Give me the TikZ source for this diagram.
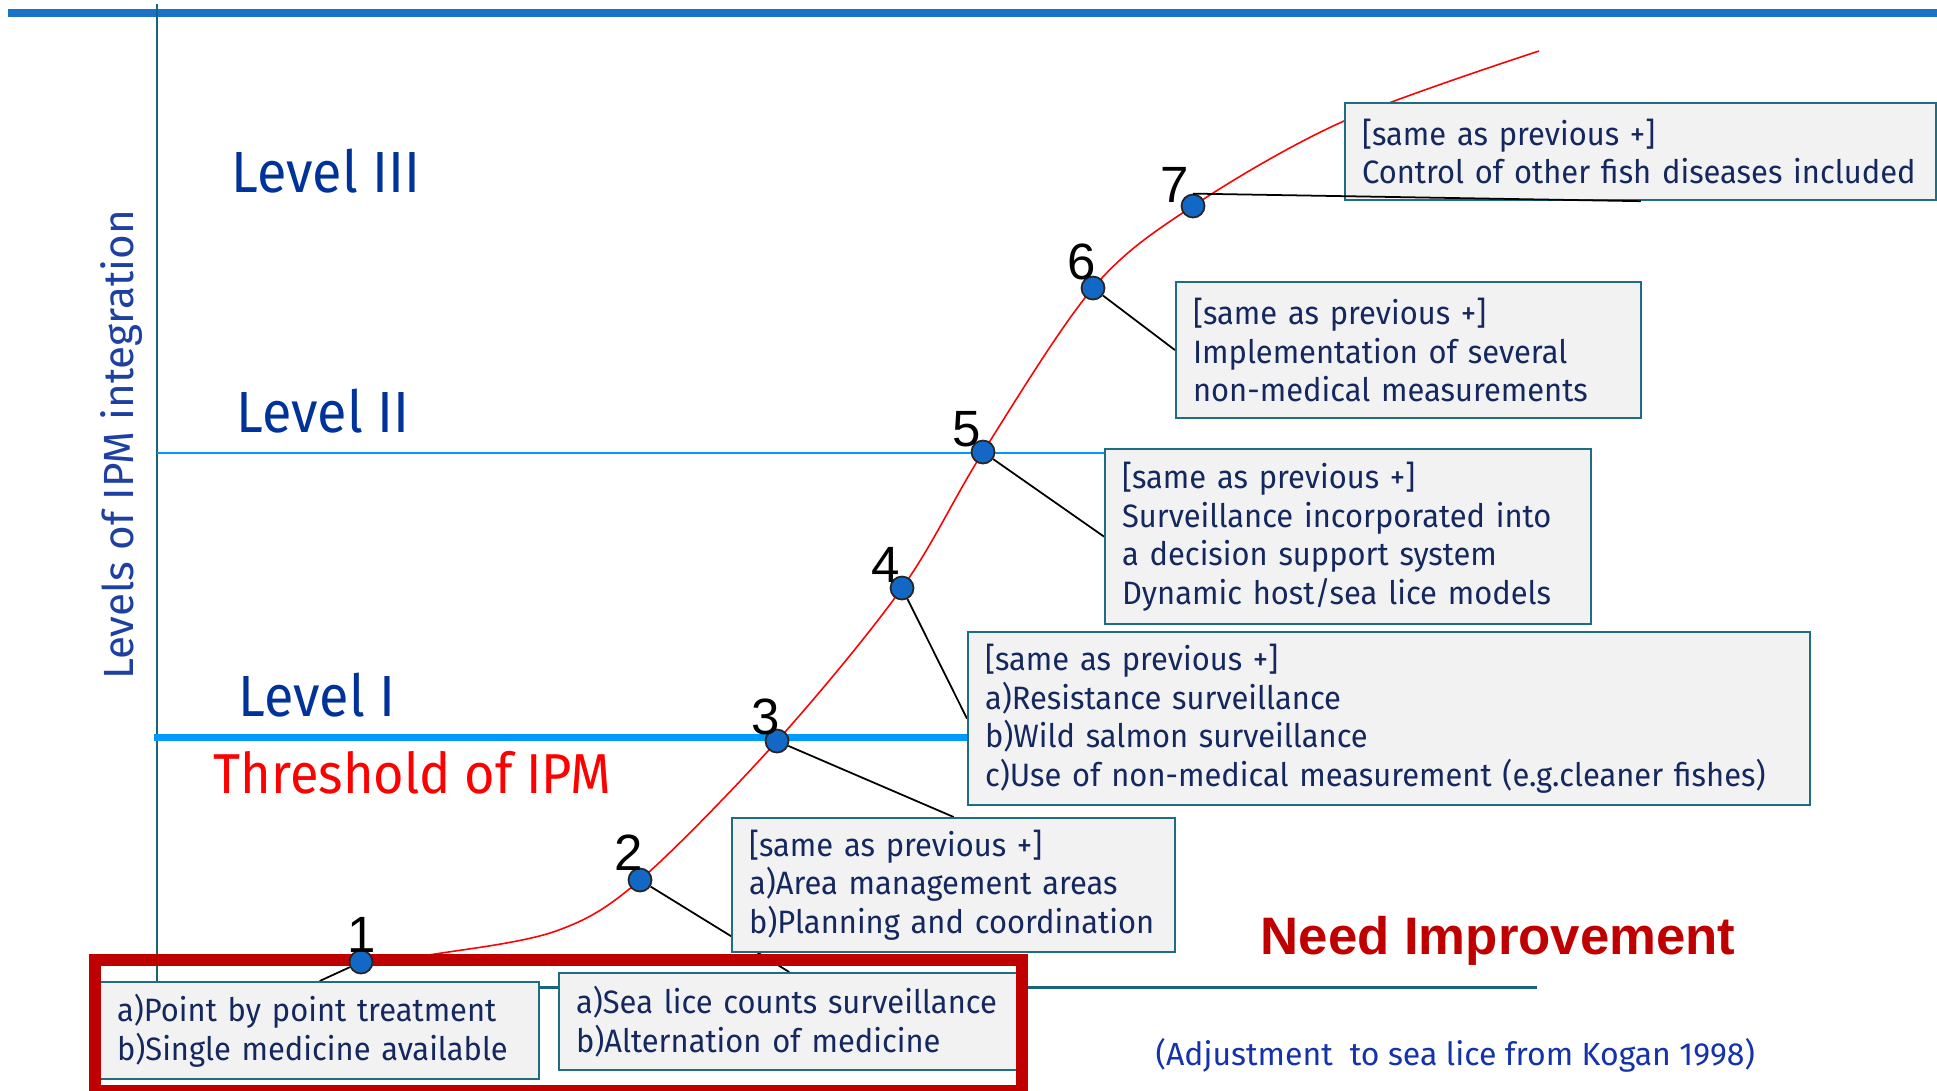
\documentclass[tikz,border=0pt]{standalone}
\usepackage{fontspec}
\setmainfont{Fira Sans}
\newfontfamily\keskeny[FakeStretch=0.93]{Fira Sans}
\newfontfamily\dobfont[FakeStretch=0.955]{Fira Sans}
\newfontfamily\arialfont{Liberation Sans}
\usetikzlibrary{positioning,backgrounds}
\definecolor{felsokek}{RGB}{26,115,199}
\definecolor{tengely}{RGB}{25,100,125}
\definecolor{vilagoskek}{RGB}{0,153,255}
\definecolor{szintkek}{RGB}{0,51,153}
\definecolor{cimkek}{RGB}{30,64,160}
\definecolor{sotetpiros}{RGB}{192,0,0}
\definecolor{dobhatter}{RGB}{242,242,242}
\definecolor{dobkeret}{RGB}{30,110,130}
\definecolor{dobszoveg}{RGB}{20,40,95}
\definecolor{pontkek}{RGB}{18,104,196}
\definecolor{forraskek}{RGB}{20,50,170}
\tikzset{
  pont/.style={circle,draw=black!85,fill=pontkek,line width=0.5pt,inner sep=0pt,minimum size=0.23cm},
  szam/.style={font=\arialfont\fontsize{14.5}{15}\selectfont,inner sep=0pt},
  dob/.style={draw=dobkeret,fill=dobhatter,line width=0.6pt,anchor=north west,align=left,
    inner xsep=0.17cm,inner ysep=0pt,text=dobszoveg,font=\dobfont\fontsize{9.2}{11}\selectfont},
  szint/.style={anchor=base west,inner sep=0pt,text=szintkek,font=\keskeny\fontsize{16.5}{18}\selectfont},
  kot/.style={line width=0.5pt},
  gorbe/.style={red,line width=0.45pt},
}

\begin{document}
\begin{tikzpicture}[x=0.01cm,y=-0.01cm]
  \useasboundingbox (0,0) rectangle (1937,1090);
  \coordinate (k1) at (361,962);
  \coordinate (k2) at (640,880);
  \coordinate (k3) at (777,741);
  \coordinate (k4) at (902,588);
  \coordinate (k5) at (983,452);
  \coordinate (k6) at (1093,288);
  \coordinate (k7) at (1193,206);

  \node[szint] (l3) at (231,192) {Level III};
  \node[szint] (l2) at (236,432) {Level II};
  \node[szint] (l1) at (238,716) {Level I};
  \node[szint,text=red,font=\keskeny\fontsize{16}{18}\selectfont] (kuszob) at (213,793) {Threshold of IPM};
  \node[rotate=90,anchor=base,inner sep=0pt,text=cimkek,font=\fontsize{12}{14}\selectfont] (ytengely) at (133,445) {Levels of IPM integration};

  \node[dob,text width=4.05cm,minimum height=0.97cm] (b1) at (99,981) {a)Point by point treatment\\b)Single medicine available};
  \node[dob,text width=4.26cm,minimum height=0.97cm] (b2) at (558,972) {a)Sea lice counts surveillance\\b)Alternation of medicine};
  \node[dob,text width=4.09cm,minimum height=1.34cm] (b3) at (731,817) {[same as previous +]\\a)Area management areas\\b)Planning and coordination};
  \node[dob,text width=8.07cm,minimum height=1.73cm] (b4) at (967,631) {[same as previous +]\\a)Resistance surveillance\\b)Wild salmon surveillance\\c)Use of non-medical measurement (e.g.cleaner fishes)};
  \node[dob,text width=4.52cm,minimum height=1.75cm] (b5) at (1104,448) {[same as previous +]\\Surveillance incorporated into\\a decision support system\\Dynamic host/sea lice models};
  \node[dob,text width=4.31cm,minimum height=1.36cm] (b6) at (1175,281) {[same as previous +]\\Implementation of several\\non-medical measurements};
  \node[dob,text width=5.57cm,minimum height=0.97cm] (b7) at (1344,102) {[same as previous +]\\Control of other fish diseases included};

  \node[anchor=base west,inner sep=0pt,text=sotetpiros,font=\arialfont\bfseries\fontsize{15}{18}\selectfont] (javitas) at (1260,954) {Need Improvement};
  \node[anchor=base west,inner sep=0pt,text=forraskek,font=\fontsize{9.1}{11}\selectfont] (forras) at (1155,1065) {(Adjustment\ \ to sea lice from Kogan 1998)};

  \draw[sotetpiros,line width=3.4pt] (95,960) rectangle (1022,1091);

  \node[pont] (p1) at (k1) {};
  \node[pont] (p2) at (k2) {};
  \node[pont] (p3) at (k3) {};
  \node[pont] (p4) at (k4) {};
  \node[pont] (p5) at (k5) {};
  \node[pont] (p6) at (k6) {};
  \node[pont] (p7) at (k7) {};
  \node[szam] (n1) at (362,935) {1};
  \node[szam] (n2) at (629,853) {2};
  \node[szam] (n3) at (766,717) {3};
  \node[szam] (n4) at (886,565) {4};
  \node[szam] (n5) at (967,429) {5};
  \node[szam] (n6) at (1082,262) {6};
  \node[szam] (n7) at (1175,185) {7};

  \begin{pgfonlayer}{background}
    \draw[felsokek,line width=2pt] (8,13) -- (1937,13);
    \draw[gorbe] plot[smooth,tension=0.55] coordinates {(k1) (435,954) (556,931) (k2) (k3) (k4) (k5) (k6) (k7) (1344,121) (1539,51)};
    \draw[tengely,line width=0.75pt] (157,4) -- (157,987);
    \draw[tengely,line width=0.85pt] (157,987) -- (1537,987);
    \draw[vilagoskek,line width=0.8pt] (157,453) -- (1110,453);
    \draw[vilagoskek,line width=2pt] (154,737) -- (972,737);
    \draw[kot] (p1) -- (b1.north);
    \draw[kot] (p2) -- (b2.north);
    \draw[kot] (p3) -- (b3.north);
    \draw[kot] (p4) -- (b4.west);
    \draw[kot] (p5) -- (b5.west);
    \draw[kot] (p6) -- (b6.west);
  \end{pgfonlayer}
  \draw[kot] (p7.north) -- (b7.south);
\end{tikzpicture}
\end{document}
